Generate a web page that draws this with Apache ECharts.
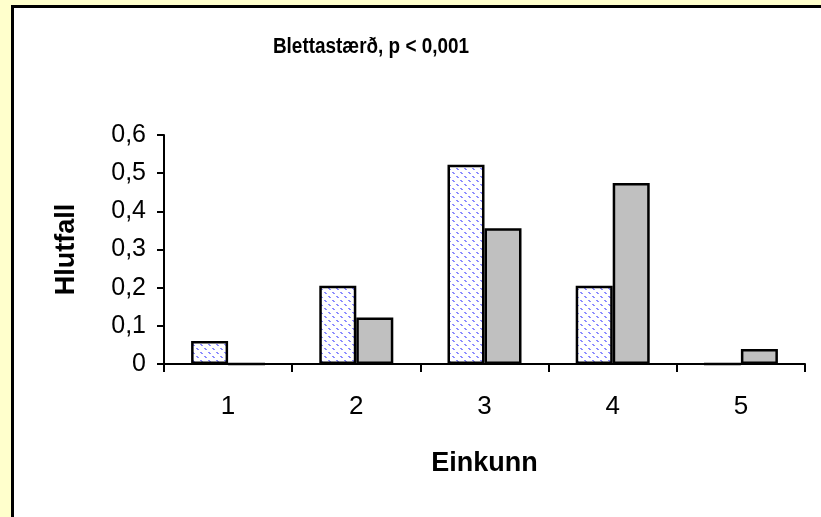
<!DOCTYPE html>
<html><head><meta charset="utf-8">
<script src="https://cdn.jsdelivr.net/npm/echarts@6/dist/echarts.min.js"></script>
<style>html,body{margin:0;padding:0;background:#FFFFCC}#c{width:821px;height:517px}</style>
</head><body><div id="c"></div>
<script>
const titleText = 'Blettastærð, p < 0,001';
const categories = ['1', '2', '3', '4', '5'];
const seriesHatched = [0.06, 0.205, 0.522, 0.205, 0];
const seriesGray = [0, 0.122, 0.356, 0.474, 0.039];
const yTicks = [0, 0.1, 0.2, 0.3, 0.4, 0.5, 0.6];

function makePattern() {
  const T = 8;
  const cv = document.createElement('canvas');
  cv.width = T; cv.height = T;
  const ctx = cv.getContext('2d');
  ctx.fillStyle = '#ffffff';
  ctx.fillRect(0, 0, T, T);
  ctx.fillStyle = '#8C8CFF';
  for (let i = 0; i < T; i++) {
    if (i % 4 < 2) {
      ctx.fillRect(i, i, 2, 1);
      if (i === T - 1) ctx.fillRect(0, i, 1, 1);
    }
  }
  return cv;
}

const chart = echarts.init(document.getElementById('c'), null, {renderer: 'canvas'});
chart.setOption({
  backgroundColor: '#FFFFCC',
  animation: false,
  graphic: [{
    type: 'rect', z: -10, silent: true,
    shape: {x: 12.5, y: 6.5, width: 900, height: 600},
    style: {fill: '#ffffff', stroke: '#000000', lineWidth: 3}
  }, {
    type: 'text', x: 371, y: 47, scaleX: 0.86, z: 10, silent: true,
    style: {
      text: titleText, fill: '#000', align: 'center', verticalAlign: 'middle',
      font: 'bold 22px "Liberation Sans", Arial'
    }
  }],
  grid: {left: 164, right: 16, top: 135, bottom: 153},
  xAxis: {
    type: 'category', data: categories,
    name: 'Einkunn', nameLocation: 'middle', nameGap: 86,
    nameTextStyle: {fontFamily: '"Liberation Sans", Arial', fontWeight: 'bold', fontSize: 27, color: '#000'},
    axisLine: {lineStyle: {color: '#000', width: 2}},
    axisTick: {show: true, length: 8, lineStyle: {color: '#000', width: 2}},
    axisLabel: {margin: 30, fontFamily: '"Liberation Sans", Arial', fontSize: 26, color: '#000'}
  },
  yAxis: {
    type: 'value', min: 0, max: 0.6, interval: 0.1,
    name: 'Hlutfall', nameLocation: 'middle', nameGap: 84,
    nameTextStyle: {fontFamily: '"Liberation Sans", Arial', fontWeight: 'bold', fontSize: 27, color: '#000'},
    splitLine: {show: false},
    axisLine: {show: true, lineStyle: {color: '#000', width: 2}},
    axisTick: {show: true, length: 7, lineStyle: {color: '#000', width: 2}},
    axisLabel: {
      margin: 18, fontFamily: '"Liberation Sans", Arial', fontSize: 25, color: '#000',
      formatter: v => {
        const t = yTicks.find(x => Math.abs(x - v) < 1e-9);
        return (t === undefined ? v : t).toFixed(v === 0 ? 0 : 1).replace('.', ',');
      }
    }
  },
  series: [{
    type: 'bar', name: 'A', data: seriesHatched, barWidth: 37, barGap: '0%',
    itemStyle: {color: {image: makePattern(), repeat: 'repeat'}, borderColor: '#000', borderWidth: 2.5}
  }, {
    type: 'bar', name: 'B', data: seriesGray, barWidth: 37,
    itemStyle: {color: '#C0C0C0', borderColor: '#000', borderWidth: 2.5}
  }]
});
</script></body></html>
